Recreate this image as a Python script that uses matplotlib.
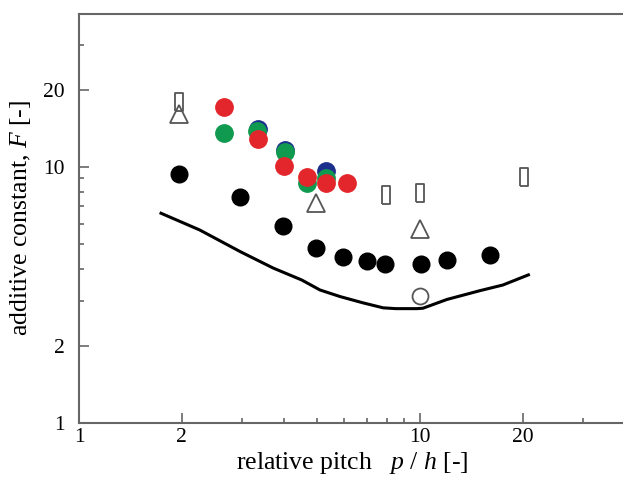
import numpy as np
import matplotlib
matplotlib.use("Agg")
import matplotlib.pyplot as plt
from matplotlib.ticker import FixedLocator, FixedFormatter, NullFormatter

plt.rcParams['font.family'] = 'Liberation Serif'
plt.rcParams['mathtext.fontset'] = 'custom'
plt.rcParams['mathtext.rm'] = 'Liberation Serif'
plt.rcParams['mathtext.it'] = 'Liberation Serif:italic'

# black filled circles
black_x = [1.97, 2.97, 3.96, 4.94, 5.96, 6.99, 7.91, 10.05, 12.0, 16.1]
black_y = [9.37, 7.59, 5.88, 4.83, 4.43, 4.28, 4.16, 4.17, 4.31, 4.51]

# coloured series
blue_x = [3.34, 4.02, 5.29]
blue_y = [14.1, 11.6, 9.65]
green_x = [2.66, 3.33, 4.02, 4.65, 5.29]
green_y = [13.6, 13.8, 11.4, 8.66, 9.06]
red_x = [2.66, 3.36, 3.99, 4.67, 5.29, 6.10]
red_y = [17.1, 12.8, 10.06, 9.14, 8.61, 8.61]

# open symbols
tri_x = [1.97, 4.95, 10.0]
tri_y = [16.1, 7.19, 5.69]
rect_x = [1.96, 7.95, 10.0, 20.2]
rect_y = [17.9, 7.75, 7.91, 9.14]
ocirc_x = [10.0]
ocirc_y = [3.13]

# solid curve
line_x = [1.74, 2.26, 2.97, 3.71, 4.5, 5.09, 5.83, 6.8, 7.8, 8.5, 9.8, 10.2, 12.0, 15.0, 17.5, 20.8]
line_y = [6.58, 5.66, 4.66, 4.02, 3.61, 3.30, 3.11, 2.94, 2.81, 2.79, 2.79, 2.80, 3.03, 3.28, 3.45, 3.78]

fig = plt.figure(figsize=(6.23, 4.78), dpi=100)
ax = fig.add_axes([79 / 623, 1 - 422.7 / 478, (623 - 79) / 623, (422.7 - 14) / 478])
ax.set_xscale('log')
ax.set_yscale('log')
ax.set_xlim(1, 39.4)
ax.set_ylim(1, 39.5)

ax.plot(line_x, line_y, color='black', lw=2.2, zorder=2)

ax.plot(black_x, black_y, 'o', color='black', ms=12, zorder=3)
ax.plot(blue_x, blue_y, 'o', color='#1c2f8c', ms=12.5, zorder=3)
ax.plot(green_x, green_y, 'o', color='#109a50', ms=12.5, zorder=4)
ax.plot(red_x, red_y, 'o', color='#e3262b', ms=12.5, zorder=5)

rect_marker = [(-0.5, -1), (0.5, -1), (0.5, 1), (-0.5, 1), (-0.5, -1)]
ax.plot(rect_x, rect_y, ls='none', marker=rect_marker, ms=12.7,
        mfc='none', mec='#555555', mew=1.3, zorder=3)
ax.plot(tri_x, tri_y, ls='none', marker='^', ms=13,
        mfc='none', mec='#555555', mew=1.3, zorder=3)
ax.plot(ocirc_x, ocirc_y, ls='none', marker='o', ms=11.5,
        mfc='white', mec='#555555', mew=1.3, zorder=3)

for side in ['left', 'bottom', 'top']:
    ax.spines[side].set_color('#666666')
    ax.spines[side].set_linewidth(1.5)
ax.spines['right'].set_visible(False)

ax.xaxis.set_major_locator(FixedLocator([1, 2, 10, 20]))
ax.xaxis.set_major_formatter(FixedFormatter(['1', '2', '10', '20']))
ax.xaxis.set_minor_locator(FixedLocator([3, 4, 5, 6, 7, 8, 9, 30]))
ax.xaxis.set_minor_formatter(NullFormatter())
ax.yaxis.set_major_locator(FixedLocator([1, 2, 10, 20]))
ax.yaxis.set_major_formatter(FixedFormatter(['1', '2', '10', '20']))
ax.yaxis.set_minor_locator(FixedLocator([3, 4, 5, 6, 7, 8, 9, 30]))
ax.yaxis.set_minor_formatter(NullFormatter())

ax.tick_params(which='major', direction='in', length=7, width=1.2, color='#666666',
               labelsize=15.5, pad=4)
ax.tick_params(which='minor', direction='in', length=3.5, width=1.2, color='#666666')
ax.tick_params(axis='y', which='major', pad=10)

ax.set_xlabel('relative pitch   $p$ / $h$ [-]', fontsize=18.5)
ax.set_ylabel('additive constant, $F$ [-]', fontsize=18.5)
ax.xaxis.set_label_coords(0.502, -0.066)
ax.yaxis.set_label_coords(-0.085, 0.5)

fig.savefig('out.png', dpi=100)
